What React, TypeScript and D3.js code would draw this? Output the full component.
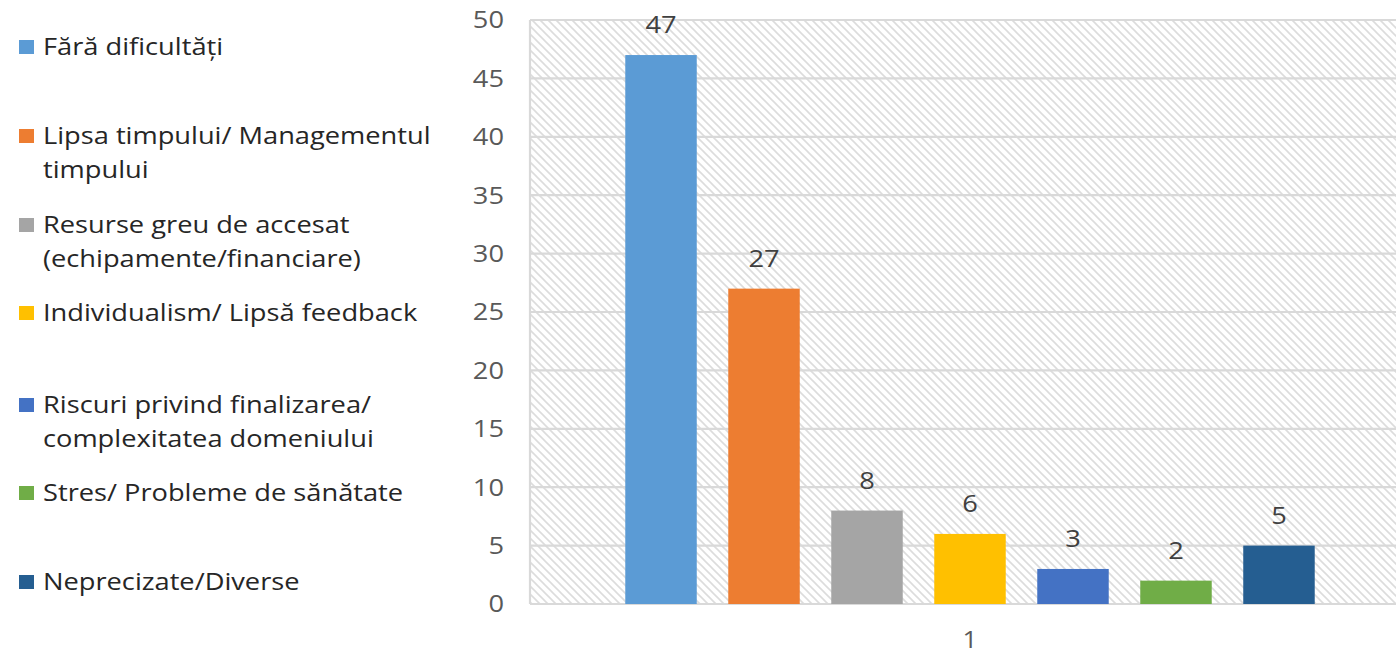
import React from "react";
import * as d3 from "d3";

const categories = ["1"];
const seriesNames = [
  "Fără dificultăți",
  "Lipsa timpului/ Managementul timpului",
  "Resurse greu de accesat (echipamente/financiare)",
  "Individualism/ Lipsă feedback",
  "Riscuri privind finalizarea/ complexitatea domeniului",
  "Stres/ Probleme de sănătate",
  "Neprecizate/Diverse",
];
const legendLines = [
  ["Fără dificultăți"],
  ["Lipsa timpului/ Managementul", "timpului"],
  ["Resurse greu de accesat", "(echipamente/financiare)"],
  ["Individualism/ Lipsă feedback"],
  ["Riscuri privind finalizarea/", "complexitatea domeniului"],
  ["Stres/ Probleme de sănătate"],
  ["Neprecizate/Diverse"],
];
const values = [47, 27, 8, 6, 3, 2, 5];
const colors = ["#5B9BD5", "#ED7D31", "#A5A5A5", "#FFC000", "#4472C4", "#70AD47", "#255E91"];
const yTicks = [0, 5, 10, 15, 20, 25, 30, 35, 40, 45, 50];
const legendY = [47, 136, 225, 313, 405, 493, 582];

const W = 1396;
const H = 656;
const plotLeft = 530;
const plotRight = 1410;
const plotTop = 20;
const plotBottom = 604;
const font = "Open Sans, Noto Sans, sans-serif";
const FS = 24;
const SX = 1.135;

function T(props: { x: number; y: number; anchor?: string; fill: string; children: React.ReactNode; dy?: string; fs?: number }) {
  return (
    <g transform={`translate(${props.x},${props.y}) scale(${SX},1)`}>
      <text
        x={0}
        y={0}
        dy={props.dy}
        textAnchor={props.anchor || "start"}
        fontFamily={font}
        fontSize={props.fs || FS}
        fill={props.fill}
      >
        {props.children}
      </text>
    </g>
  );
}

export default function App() {
  const y = d3.scaleLinear().domain([0, 50]).range([plotBottom, plotTop]);
  const x0 = d3.scaleBand().domain(categories).range([plotLeft, plotRight]);
  const x1 = d3
    .scaleBand()
    .domain(seriesNames)
    .range([x0("1")!, x0("1")! + x0.bandwidth()])
    .paddingInner(0.306)
    .paddingOuter(0.925);

  return (
    <svg width={W} height={H} style={{ position: "absolute", left: 0, top: 0, background: "#fff" }}>
      <defs>
        <pattern id="hatch" width="8" height="8" patternUnits="userSpaceOnUse">
          <rect width="8" height="8" fill="#fff" />
          <path d="M-2,-2 L10,10 M-2,6 L2,10 M6,-2 L10,2" stroke="#dcdcdc" strokeWidth="1.6" />
        </pattern>
      </defs>
      <rect x={plotLeft} y={plotTop} width={W - plotLeft} height={plotBottom - plotTop} fill="url(#hatch)" />
      {yTicks.map((t) => (
        <line key={t} x1={plotLeft} x2={W} y1={y(t)} y2={y(t)} stroke="#d9d9d9" strokeWidth={2.2} />
      ))}
      <line x1={plotLeft} x2={plotLeft} y1={plotTop} y2={plotBottom} stroke="#d9d9d9" strokeWidth={2.2} />
      {yTicks.map((t) => (
        <T key={t} x={504} y={y(t)} dy="0.35em" anchor="end" fill="#595959">
          {t}
        </T>
      ))}
      {seriesNames.map((s, i) => {
        const bx = x1(s)!;
        const bw = x1.bandwidth();
        return (
          <g key={s}>
            <rect x={bx} y={y(values[i])} width={bw} height={plotBottom - y(values[i])} fill={colors[i]} />
            <T x={bx + bw / 2} y={y(values[i]) - 22} anchor="middle" fill="#404040">
              {values[i]}
            </T>
          </g>
        );
      })}
      {categories.map((c) => (
        <T key={c} x={x0(c)! + x0.bandwidth() / 2} y={640} dy="0.35em" anchor="middle" fill="#595959" fs={23}>
          {c}
        </T>
      ))}
      {legendLines.map((lines, i) => (
        <g key={i}>
          <rect x={19} y={legendY[i] - 7} width={15} height={14} fill={colors[i]} />
          {lines.map((ln, j) => (
            <T key={j} x={43} y={legendY[i] + j * 34} dy="0.35em" fill="#262626">
              {ln}
            </T>
          ))}
        </g>
      ))}
    </svg>
  );
}
